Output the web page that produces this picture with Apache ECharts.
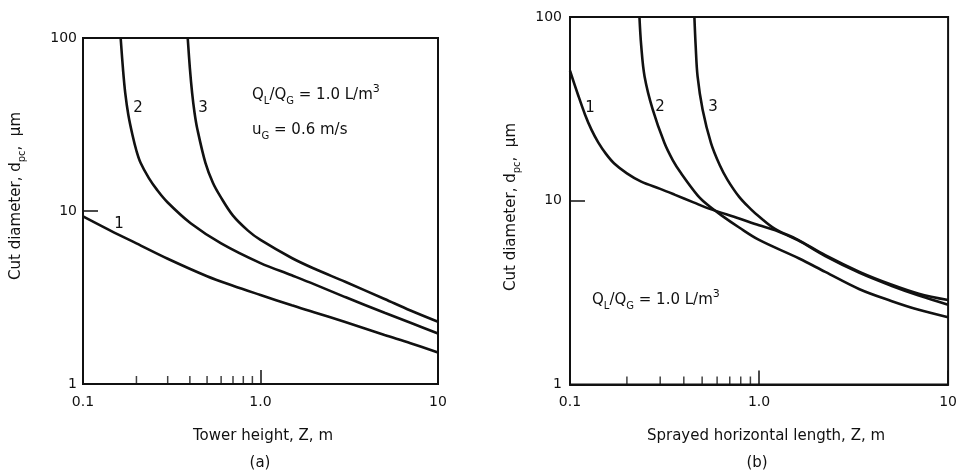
<!DOCTYPE html>
<html><head><meta charset="utf-8">
<script src="https://cdn.jsdelivr.net/npm/echarts@6/dist/echarts.min.js"></script>
<style>html,body{margin:0;padding:0;background:#fff}#c{width:960px;height:472px}</style>
</head><body><div id="c"></div>
<script>
// ---- tick labels ----
const xTickLabels = ['0.1', '1.0', '10'];
const yTickLabels = ['1', '10', '100'];
const minorTicksX = [0.2, 0.3, 0.4, 0.5, 0.6, 0.7, 0.8, 0.9];

// ---- (a) Tower height, Z (m) vs cut diameter (µm) ----
const towerCurve1 = [[0.1,9.3],[0.15,7.5],[0.2,6.5],[0.3,5.3],[0.5,4.2],[0.7,3.7],[1,3.27],[1.5,2.85],[2,2.6],[3,2.28],[5,1.92],[7,1.72],[10,1.52]];
const towerCurve2 = [[0.163,100],[0.168,66],[0.173,48],[0.18,36],[0.19,27.5],[0.2,22.3],[0.211,19],[0.235,15.5],[0.262,13.2],[0.3,11.2],[0.404,8.5],[0.6,6.5],[1,5.0],[1.5,4.25],[2,3.78],[3,3.18],[5,2.58],[7,2.26],[10,1.96]];
const towerCurve3 = [[0.389,100],[0.40,67],[0.412,48],[0.425,37],[0.44,30],[0.49,18.9],[0.54,14.5],[0.595,12.1],[0.7,9.4],[0.85,7.7],[1,6.8],[1.5,5.35],[2,4.65],[3,3.9],[5,3.1],[7,2.66],[10,2.29]];

// ---- (b) Sprayed horizontal length, Z (m) vs cut diameter (µm) ----
const sprayCurve1 = [[0.1,51],[0.11,38],[0.12,29.5],[0.13,24.3],[0.141,20.8],[0.155,18],[0.172,15.9],[0.2,14.1],[0.238,12.7],[0.3,11.6],[0.357,10.8],[0.45,9.8],[0.534,9.12],[0.785,8.0],[1,7.35],[1.22,6.9],[1.6,6.1],[2.24,5.0],[3.4,4.05],[5,3.45],[7,3.05],[10,2.72]];
const sprayCurve2 = [[0.233,100],[0.238,70],[0.248,47.5],[0.274,31.3],[0.316,20.6],[0.35,16.6],[0.387,14.1],[0.473,10.7],[0.534,9.5],[0.63,8.35],[0.785,7.15],[1,6.12],[1.63,4.85],[2.24,4.1],[3.4,3.3],[5,2.85],[7,2.55],[10,2.32]];
const sprayCurve3 = [[0.455,100],[0.462,70],[0.473,47.5],[0.503,31.3],[0.557,20.6],[0.62,15.6],[0.681,13.0],[0.785,10.5],[0.904,9.0],[1,8.2],[1.22,7.0],[1.6,6.15],[2.24,5.05],[3.4,4.1],[5,3.5],[7,3.12],[10,2.88]];

const FONT = 'DejaVu Sans';
const INK = '#111';

const chart = echarts.init(document.getElementById('c'), null, {renderer: 'canvas'});

function xAxisCfg(gridIndex) {
  return {
    type: 'log', logBase: 10, min: 0.1, max: 10, gridIndex,
    axisLine: {show: true, lineStyle: {color: INK, width: 2}},
    axisTick: {show: true, inside: true, length: 14, lineStyle: {color: INK, width: 1.5}},
    minorTick: {show: false},
    splitLine: {show: false},
    axisLabel: {
      margin: 11, color: INK, fontFamily: FONT, fontSize: 14,
      showMinLabel: true, showMaxLabel: true,
      formatter: v => xTickLabels[Math.round(Math.log10(v)) + 1]
    }
  };
}
function yAxisCfg(gridIndex, margin) {
  return {
    type: 'log', logBase: 10, min: 1, max: 100, gridIndex,
    axisLine: {show: true, lineStyle: {color: INK, width: 2}},
    axisTick: {show: true, inside: true, length: 15, lineStyle: {color: INK, width: 1.5}},
    splitLine: {show: false},
    axisLabel: {
      margin, color: INK, fontFamily: FONT, fontSize: 14,
      showMinLabel: true, showMaxLabel: true,
      formatter: v => yTickLabels[Math.round(Math.log10(v))]
    }
  };
}
function curve(data, idx) {
  return {
    type: 'line', data, xAxisIndex: idx, yAxisIndex: idx,
    symbol: 'none', smooth: 0.35,
    lineStyle: {color: INK, width: 2.6}, silent: true, z: 3
  };
}
function minorTicks(idx) {
  return {
    type: 'scatter', xAxisIndex: idx, yAxisIndex: idx, clip: false,
    data: minorTicksX.map(x => [x, 1]),
    symbol: 'rect', symbolSize: [1.5, 8], symbolOffset: [0, -4],
    itemStyle: {color: INK}, silent: true, z: 4
  };
}
function txt(x, y, text, extra) {
  return Object.assign({
    type: 'text', x, y, silent: true,
    style: {text, fill: INK, font: '15px "' + FONT + '"', align: 'center', verticalAlign: 'middle'}
  }, extra || {});
}
const richQ = {
  m: {fontFamily: FONT, fontSize: 15, lineHeight: 22, verticalAlign: 'middle', fill: INK},
  s: {fontFamily: FONT, fontSize: 10, lineHeight: 12, verticalAlign: 'bottom', fill: INK},
  p: {fontFamily: FONT, fontSize: 11, lineHeight: 12, verticalAlign: 'top', fill: INK}
};
function richText(x, y, text, rot, align) {
  return {
    type: 'text', x, y, rotation: rot || 0, silent: true,
    style: {text, rich: richQ, fill: INK, font: '15px "' + FONT + '"', align: align || 'left', verticalAlign: 'middle'}
  };
}

chart.setOption({
  animation: false,
  backgroundColor: '#fff',
  grid: [
    {left: 83, top: 38, width: 355, height: 346, show: true, borderColor: INK, borderWidth: 2},
    {left: 570, top: 17, width: 380, height: 367.5, show: true, borderColor: INK, borderWidth: 2}
  ],
  xAxis: [xAxisCfg(0), xAxisCfg(1)],
  yAxis: [yAxisCfg(0, 6), yAxisCfg(1, 8)],
  series: [
    curve(towerCurve1, 0), curve(towerCurve2, 0), curve(towerCurve3, 0), minorTicks(0),
    curve(sprayCurve1, 1), curve(sprayCurve2, 1), curve(sprayCurve3, 1), minorTicks(1)
  ],
  graphic: [
    // left panel
    richText(16, 196, '{m|Cut diameter, d}{s|pc}{m|,  μm}', Math.PI / 2, 'center'),
    txt(263, 436, 'Tower height, Z, m'),
    txt(260, 463, '(a)'),
    richText(252, 95, '{m|Q}{s|L}{m|/Q}{s|G}{m| = 1.0 L/m}{p|3}'),
    richText(252, 130, '{m|u}{s|G}{m| = 0.6 m/s}'),
    txt(119, 224, '1'), txt(138, 108, '2'), txt(203, 108, '3'),
    // right panel
    richText(511, 207, '{m|Cut diameter, d}{s|pc}{m|,  μm}', Math.PI / 2, 'center'),
    txt(766, 436, 'Sprayed horizontal length, Z, m'),
    txt(757, 463, '(b)'),
    richText(592, 300, '{m|Q}{s|L}{m|/Q}{s|G}{m| = 1.0 L/m}{p|3}'),
    txt(590, 108, '1'), txt(660, 107, '2'), txt(713, 107, '3')
  ]
});
</script>
</body></html>
